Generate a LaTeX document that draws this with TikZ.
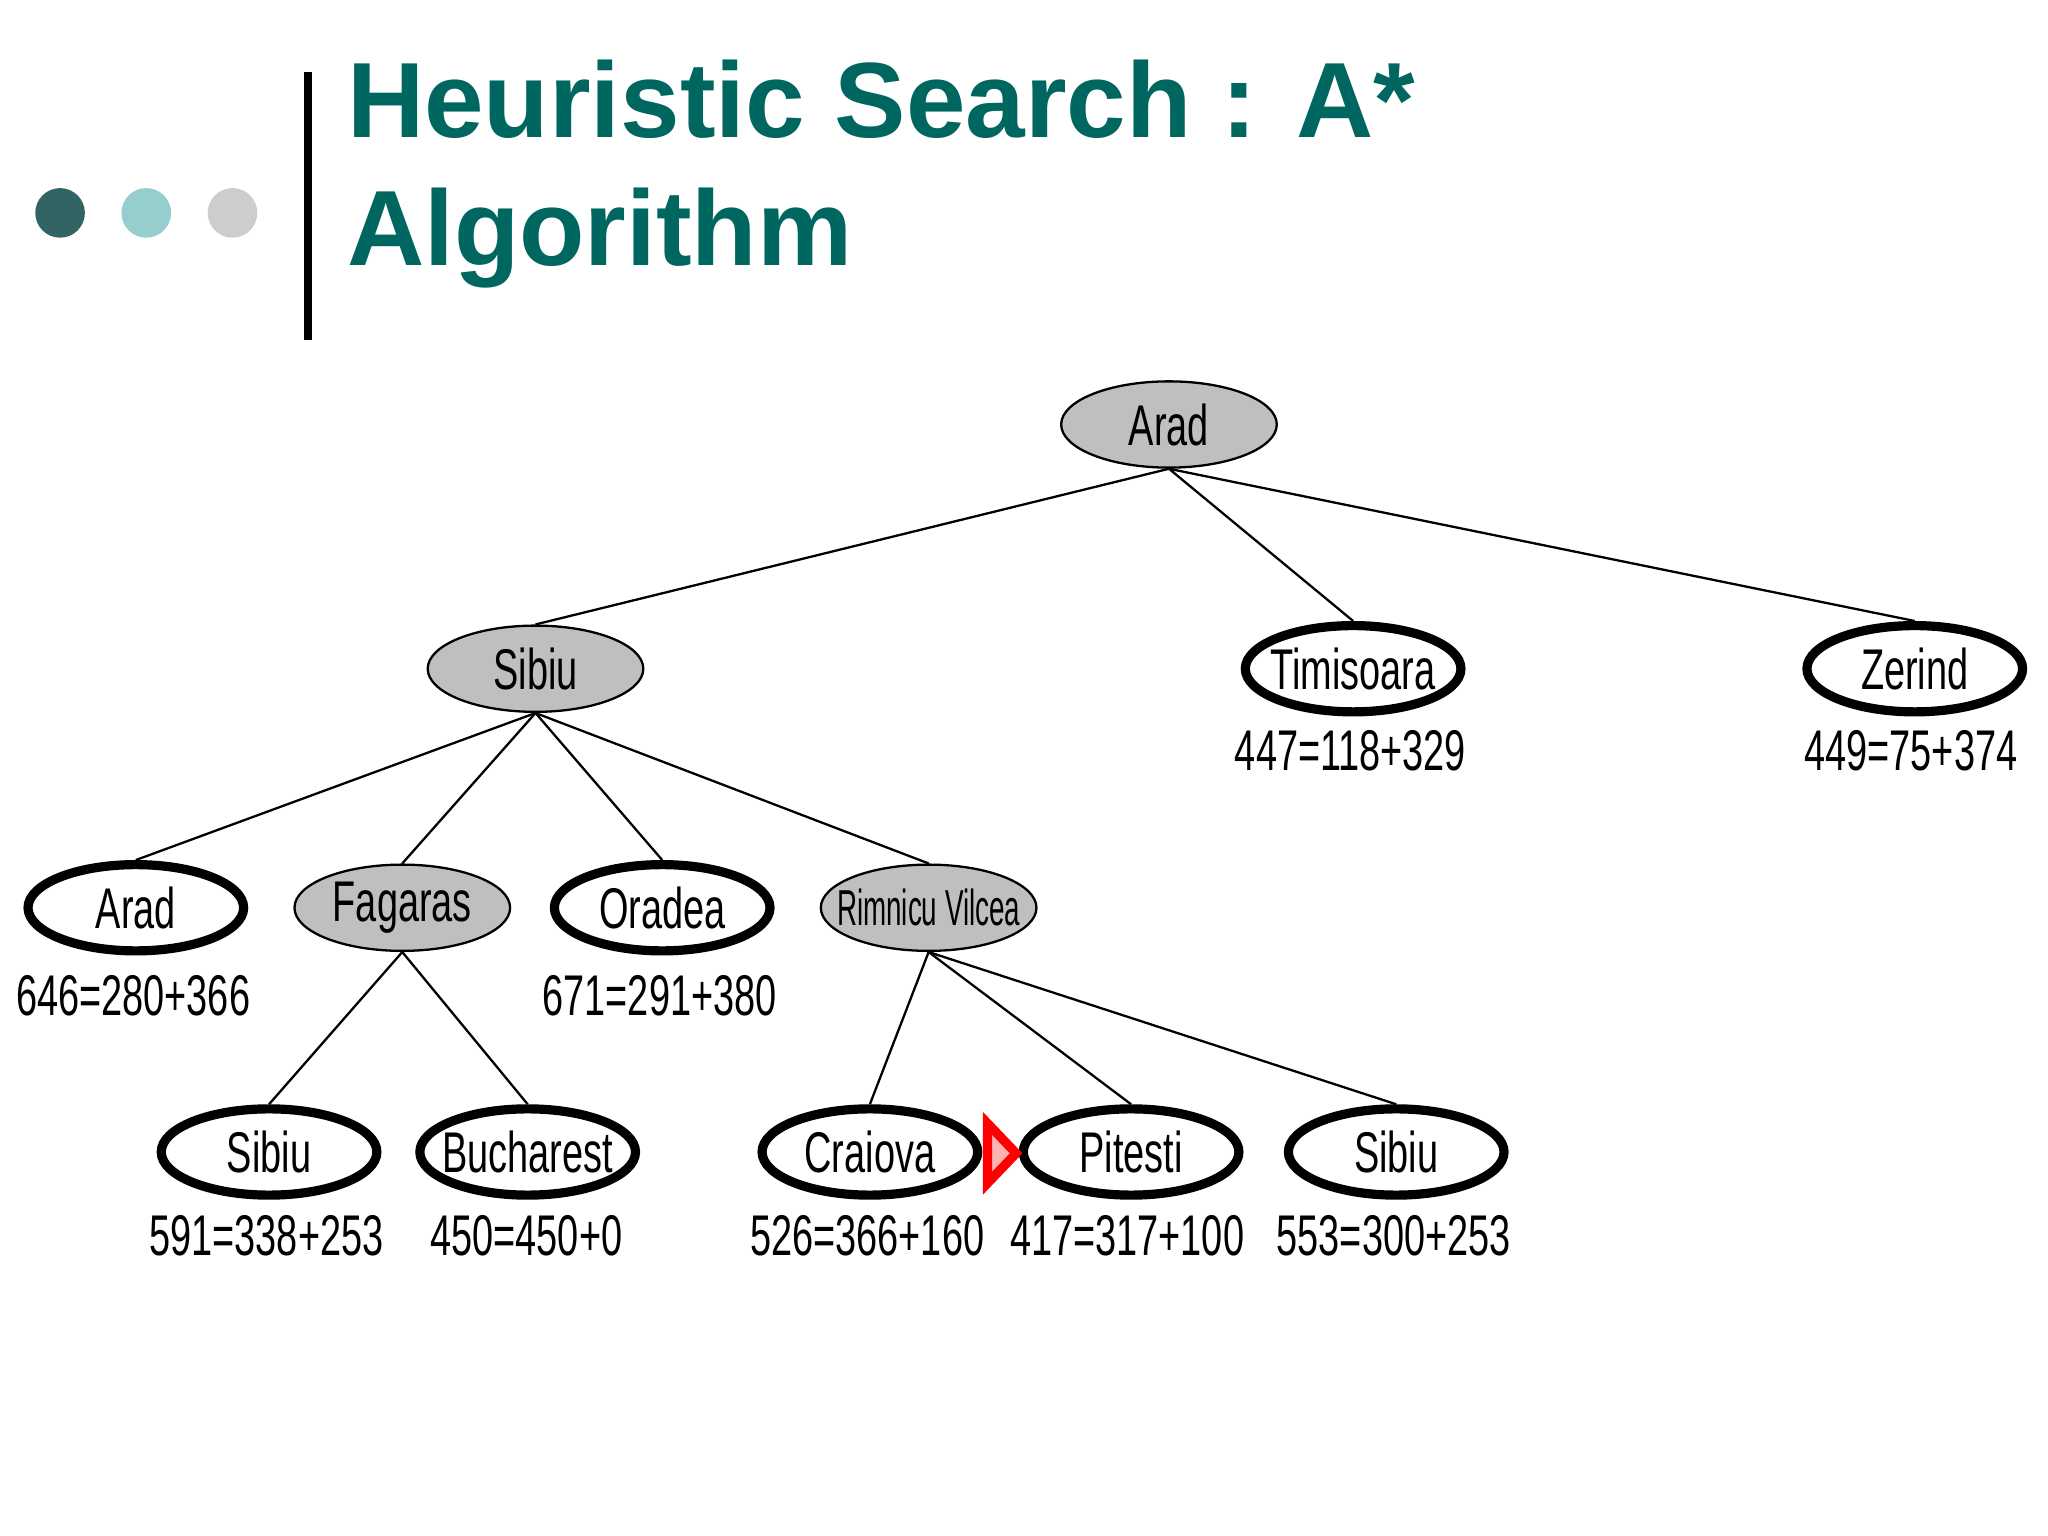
\documentclass[tikz,border=0pt]{standalone}
\usepackage{fontspec}
\setmainfont{Liberation Sans}
\newfontfamily\narrowf[FakeStretch=0.66]{Liberation Sans}
\newfontfamily\narrowerf[FakeStretch=0.55]{Liberation Sans}
\usetikzlibrary{shapes.geometric}
\definecolor{teal1}{RGB}{0,102,96}
\definecolor{dot1}{RGB}{50,100,100}
\definecolor{dot2}{RGB}{150,205,205}
\definecolor{dot3}{RGB}{205,205,205}
\tikzset{
 nd/.style={ellipse,draw,minimum width=1.65cm,minimum height=0.66cm,inner ysep=0pt,inner xsep=-1.2mm,font=\narrowf\fontsize{12.5}{15}\selectfont},
 open/.style={nd,line width=2pt},
 done/.style={nd,fill=black!25,line width=0.5pt},
 val/.style={font=\narrowf\fontsize{12.5}{15}\selectfont},
 edge/.style={line width=0.5pt}
}
\begin{document}
\begin{tikzpicture}[x=0.01cm,y=-0.01cm]
\useasboundingbox (0,0) rectangle (1568,1176);
\fill[dot1] (46,163) circle (19);
\fill[dot2] (112,163) circle (19);
\fill[dot3] (178,163) circle (19);
\fill (233,55) rectangle (239,260);
\node[anchor=base west,inner sep=0pt,text=teal1,font=\fontsize{23.3}{28}\selectfont\bfseries] (t1) at (265,105) {Heuristic Search : A*};
\node[anchor=base west,inner sep=0pt,text=teal1,font=\fontsize{23.3}{28}\selectfont\bfseries] (t2) at (265,203) {Algorithm};

\node[done] (a) at (895,325) {Arad};
\node[done] (s) at (410,512) {Sibiu};
\node[open] (t) at (1036,512) {Timisoara};
\node[open] (z) at (1466,512) {Zerind};
\node[val] (tv) at (1034,575) {447=118+329};
\node[val] (zv) at (1463,575) {449=75+374};
\node[open] (a2) at (104,695) {Arad};
\node[done] (f) at (308,695) {Fagaras};
\node[open] (o) at (507,695) {Oradea};
\node[done,font=\narrowerf\fontsize{11}{13}\selectfont] (r) at (711,695) {Rimnicu Vilcea};
\node[val] (a2v) at (102,762) {646=280+366};
\node[val] (ov) at (505,762) {671=291+380};
\node[open] (s2) at (206,882) {Sibiu};
\node[open] (b) at (404,882) {Bucharest};
\node[open] (c) at (666,882) {Craiova};
\node[open] (p) at (866,882) {Pitesti};
\node[open] (s3) at (1069,882) {Sibiu};
\node[val] (s2v) at (204,946) {591=338+253};
\node[val] (bv) at (403,946) {450=450+0};
\node[val] (cv) at (664,946) {526=366+160};
\node[val] (pv) at (863,946) {417=317+100};
\node[val] (s3v) at (1067,946) {553=300+253};
\coordinate (m1) at (756,860);
\coordinate (m2) at (756,906);
\coordinate (m3) at (778,883);
\draw[red,line width=2pt,fill=red!30,line join=miter] (m1) -- (m3) -- (m2) -- cycle;

\foreach \u/\v in {a/s,a/t,a/z,s/a2,s/f,s/o,s/r,f/s2,f/b,r/c,r/p,r/s3}
  \draw[edge] (\u.south) -- (\v.north);
\end{tikzpicture}
\end{document}
